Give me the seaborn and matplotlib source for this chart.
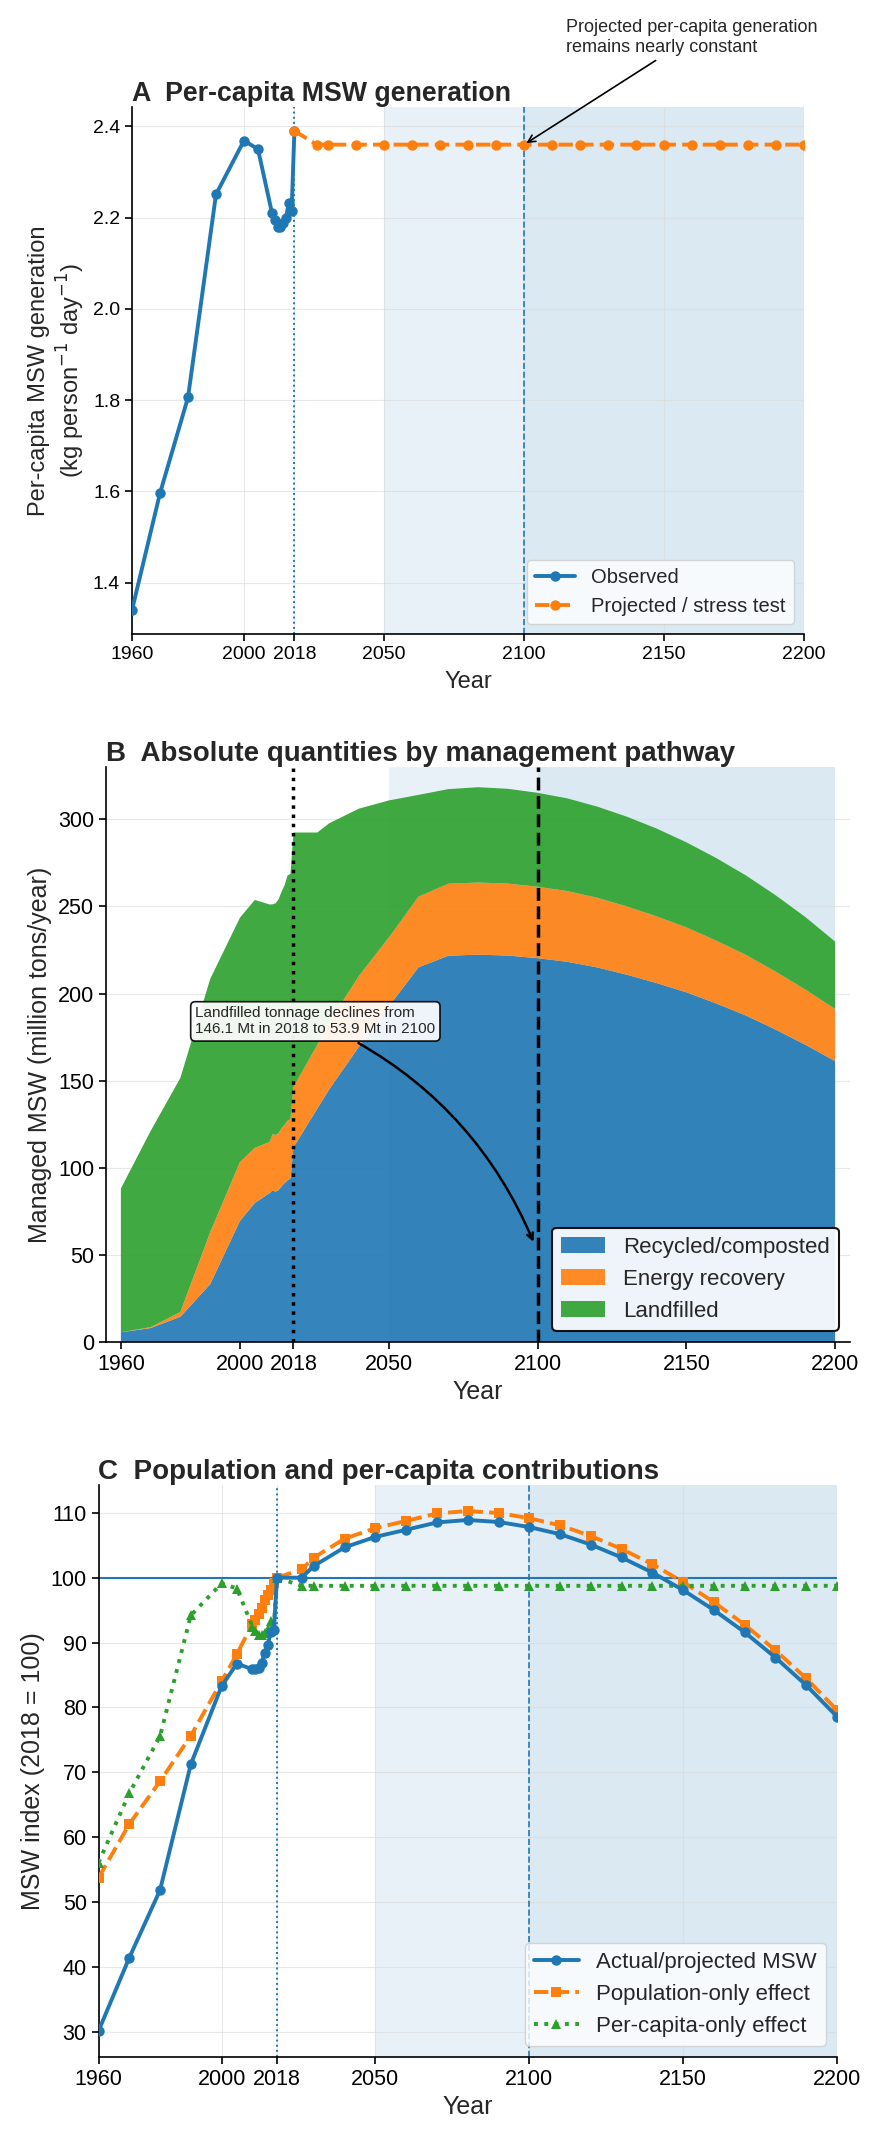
import numpy as np
import pandas as pd
import matplotlib
matplotlib.use("Agg")
from matplotlib import pyplot as plt
from matplotlib.patches import Patch
import seaborn as sns

# observed years (EPA-style series)
obs_years = [1960, 1970, 1980, 1990, 2000, 2005, 2010, 2011, 2012, 2013, 2014, 2015, 2016, 2017, 2018]
obs_percap = [1.340, 1.596, 1.806, 2.251, 2.369, 2.350, 2.210, 2.195, 2.180, 2.180, 2.188, 2.200, 2.232, 2.214, 2.390]
obs_total = [88.1, 121.1, 151.6, 208.3, 243.5, 253.7, 251.1, 251.2, 251.8, 254.1, 258.5, 262.1, 267.8, 268.7, 292.4]
obs_recycled = [5.6, 8.0, 14.5, 33.2, 69.5, 79.8, 85.5, 86.9, 86.3, 87.2, 89.5, 91.2, 92.8, 94.0, 111.7]
obs_energy = [0.0, 0.5, 2.7, 29.7, 33.7, 31.6, 29.3, 32.4, 32.5, 32.7, 33.1, 33.5, 34.1, 34.0, 34.6]

# projection / stress test
proj_years = [2026, 2030, 2040, 2050, 2060, 2070, 2080, 2090, 2100, 2110,
              2120, 2130, 2140, 2150, 2160, 2170, 2180, 2190, 2200]
proj_percap = [2.36, 2.36, 2.36, 2.36, 2.36, 2.36, 2.36, 2.36, 2.36, 2.36,
               2.36, 2.36, 2.36, 2.36, 2.36, 2.36, 2.36, 2.36, 2.36]
proj_total = [292.4, 297.7, 306.1, 310.8, 314.0, 317.3, 318.4, 317.5, 315.2, 312.0,
              307.3, 301.5, 294.7, 286.8, 277.8, 267.8, 256.4, 243.9, 229.8]
proj_recycled = [134.0, 145.0, 169.5, 192.5, 215.0, 221.7, 222.3, 221.8, 220.3, 218.2,
                 215.0, 210.8, 206.0, 200.7, 194.3, 187.4, 179.3, 170.6, 161.2]
proj_energy = [36.5, 38.5, 40.5, 39.5, 40.6, 41.3, 41.4, 41.3, 41.0, 40.6,
               40.0, 39.2, 38.3, 37.3, 36.1, 34.8, 33.3, 31.7, 29.9]

year_ticks = [1960, 2000, 2018, 2050, 2100, 2150, 2200]

blue = "#1f77b4"
orange = "#ff7f0e"
green = "#2ca02c"

obs = pd.DataFrame({"year": obs_years, "percap": obs_percap, "total": obs_total,
                    "recycled": obs_recycled, "energy": obs_energy})
proj = pd.DataFrame({"year": proj_years, "percap": proj_percap, "total": proj_total,
                     "recycled": proj_recycled, "energy": proj_energy})
allw = pd.concat([obs, proj], ignore_index=True)
allw["landfill"] = allw["total"] - allw["recycled"] - allw["energy"]

base_total = obs["total"].iloc[-1]
base_pc = obs["percap"].iloc[-1]
allw["idx_total"] = allw["total"] / base_total * 100
allw["idx_pc"] = allw["percap"] / base_pc * 100
allw["idx_pop"] = allw["idx_total"] / allw["idx_pc"] * 100

# projected line in A starts at the 2018 observation
projA = pd.concat([obs.iloc[[-1]], proj], ignore_index=True)

sns.set_theme(style="ticks")
plt.rcParams["font.family"] = ["Liberation Sans", "DejaVu Sans"]
plt.rcParams["axes.edgecolor"] = "black"
plt.rcParams["axes.linewidth"] = 1.2
plt.rcParams["xtick.major.size"] = 5
plt.rcParams["ytick.major.size"] = 5
plt.rcParams["xtick.major.width"] = 1.2
plt.rcParams["ytick.major.width"] = 1.2
plt.rcParams["xtick.color"] = "black"
plt.rcParams["ytick.color"] = "black"

fig = plt.figure(figsize=(8.81, 21.32), dpi=100)
W, H = 881, 2132
LW = 2.8
MS = 7.5


def place(l, r, t, b):
    return fig.add_axes([l / W, 1 - b / H, (r - l) / W, (b - t) / H])


def shade(ax):
    ax.axvspan(2050, 2100, color=blue, alpha=0.10, lw=0, zorder=0)
    ax.axvspan(2100, 2200, color=blue, alpha=0.16, lw=0, zorder=0)


# ---------- A ----------
ax = place(132, 804, 107, 634)
shade(ax)
ax.grid(True, color="0.85", lw=0.8, alpha=0.6, zorder=0)
sns.lineplot(data=obs, x="year", y="percap", ax=ax, color=blue, lw=LW,
             marker="o", markersize=MS, markeredgewidth=0, label="Observed", zorder=3)
sns.lineplot(data=projA, x="year", y="percap", ax=ax, color=orange, lw=LW,
             linestyle="--", marker="o", markersize=MS, markeredgewidth=0,
             label="Projected / stress test", zorder=3)
ax.axvline(2018, color=blue, ls=":", lw=1.4, zorder=2)
ax.axvline(2100, color=blue, ls="--", lw=1.2, zorder=2)
ax.set_xlim(1960, 2200)
ax.set_xticks(year_ticks)
ax.set_yticks([1.4, 1.6, 1.8, 2.0, 2.2, 2.4])
ax.tick_params(labelsize=14)
ax.set_xlabel("Year", fontsize=17, labelpad=6)
ax.set_ylabel("Per-capita MSW generation\n(kg person$^{-1}$ day$^{-1}$)", fontsize=17)
ax.set_title("A  Per-capita MSW generation", loc="left", fontsize=19.3,
             fontweight="bold", pad=4)
ax.annotate("Projected per-capita generation\nremains nearly constant",
            xy=(2100, 2.36), xytext=(2115, 2.595), fontsize=13,
            ha="left", va="center", annotation_clip=False,
            arrowprops=dict(arrowstyle="->", color="black", lw=1.2))
ax.legend(loc="lower right", fontsize=14.5, frameon=True)
sns.despine(ax=ax)

# ---------- B ----------
ax = place(106, 850, 767, 1342)
shade(ax)
ax.grid(True, axis="y", color="0.85", lw=0.8, alpha=0.6, zorder=0)
ax.stackplot(allw["year"], allw["recycled"], allw["energy"], allw["landfill"],
             colors=[blue, orange, green], alpha=0.9, lw=0, edgecolor="none", zorder=1)
ax.axvline(2018, color="black", ls=":", lw=2.5, zorder=3)
ax.axvline(2100, color="black", ls="--", lw=2.5, zorder=3)
ax.set_xlim(1955, 2205)
ax.set_ylim(0, 330)
ax.set_xticks(year_ticks)
ax.set_yticks([0, 50, 100, 150, 200, 250, 300])
ax.tick_params(labelsize=15.5)
ax.set_xlabel("Year", fontsize=18)
ax.set_ylabel("Managed MSW (million tons/year)", fontsize=18)
ax.set_title("B  Absolute quantities by management pathway", loc="left",
             fontsize=20, fontweight="bold", pad=4)
lf18 = allw.loc[allw["year"] == 2018, "landfill"].iloc[0]
lf2100 = allw.loc[allw["year"] == 2100, "landfill"].iloc[0]
ax.annotate(f"Landfilled tonnage declines from\n{lf18:.1f} Mt in 2018 to {lf2100:.1f} Mt in 2100",
            xy=(2099, 56), xytext=(1985, 184), fontsize=11, ha="left", va="center",
            bbox=dict(boxstyle="round,pad=0.3", fc="white", ec="black", lw=1.2, alpha=0.92),
            arrowprops=dict(arrowstyle="->", color="black", lw=1.8,
                            connectionstyle="arc3,rad=-0.2"), zorder=5)
handles = [Patch(facecolor=blue, alpha=0.9, lw=0, label="Recycled/composted"),
           Patch(facecolor=orange, alpha=0.9, lw=0, label="Energy recovery"),
           Patch(facecolor=green, alpha=0.9, lw=0, label="Landfilled")]
leg = ax.legend(handles=handles, loc="lower right", fontsize=16, frameon=True,
                framealpha=0.92, edgecolor="black")
leg.get_frame().set_linewidth(1.5)
sns.despine(ax=ax)

# ---------- C ----------
ax = place(98.5, 837, 1485, 2057)
shade(ax)
ax.grid(True, color="0.85", lw=0.8, alpha=0.6, zorder=0)
ax.axhline(100, color=blue, lw=1.5, zorder=2)
sns.lineplot(data=allw, x="year", y="idx_total", ax=ax, color=blue, lw=LW,
             marker="o", markersize=MS, markeredgewidth=0,
             label="Actual/projected MSW", zorder=4)
sns.lineplot(data=allw, x="year", y="idx_pop", ax=ax, color=orange, lw=LW,
             linestyle="--", marker="s", markersize=MS, markeredgewidth=0,
             label="Population-only effect", zorder=3)
sns.lineplot(data=allw, x="year", y="idx_pc", ax=ax, color=green, lw=LW,
             linestyle=":", marker="^", markersize=MS, markeredgewidth=0,
             label="Per-capita-only effect", zorder=3)
ax.axvline(2018, color=blue, ls=":", lw=1.4, zorder=2)
ax.axvline(2100, color=blue, ls="--", lw=1.2, zorder=2)
ax.set_xlim(1960, 2200)
ax.set_xticks(year_ticks)
ax.set_yticks(list(range(30, 111, 10)))
ax.tick_params(labelsize=15.5)
ax.set_xlabel("Year", fontsize=18)
ax.set_ylabel("MSW index (2018 = 100)", fontsize=18)
ax.set_title("C  Population and per-capita contributions", loc="left",
             fontsize=20, fontweight="bold", pad=4)
ax.legend(loc="lower right", fontsize=16, frameon=True)
sns.despine(ax=ax)

fig.savefig("out.png", dpi=100)
